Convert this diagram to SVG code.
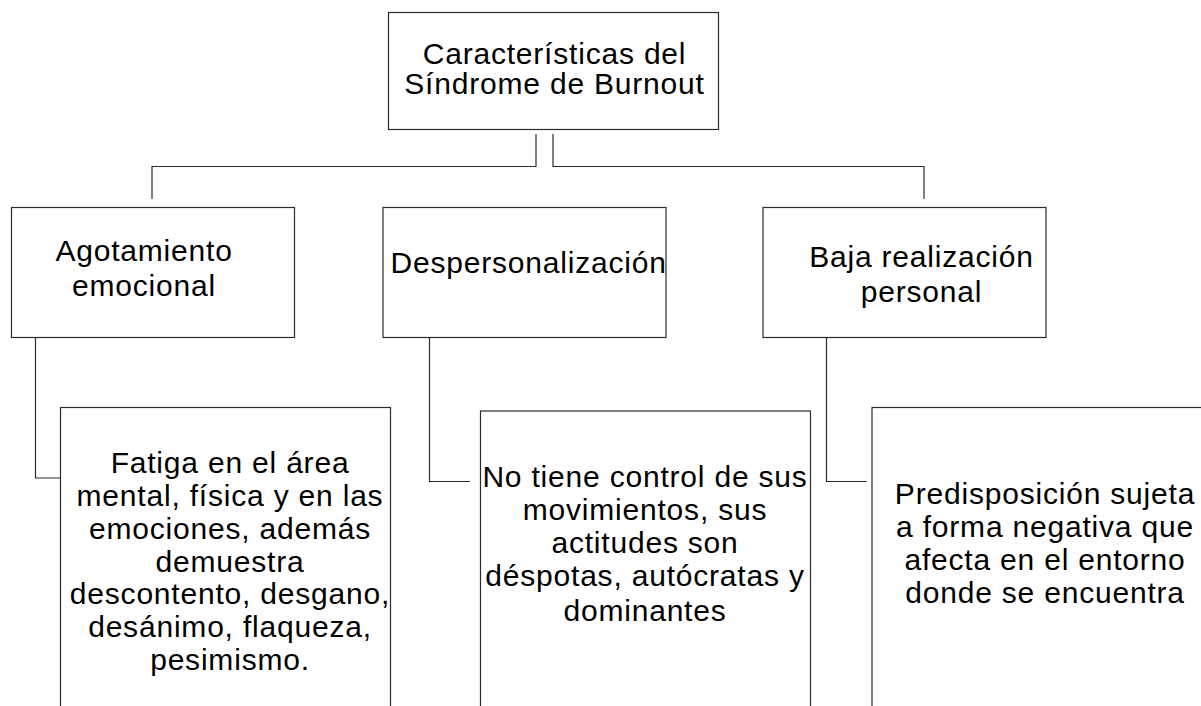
<svg xmlns="http://www.w3.org/2000/svg" width="1201" height="706" viewBox="0 0 1201 706">
<style>
.box{fill:#fff;stroke:#2b2b2b;stroke-width:1.2}
.ln{fill:none;stroke:#2b2b2b;stroke-width:1.2}
text{font-family:"Liberation Sans",Arial,sans-serif;font-size:30px;letter-spacing:0.8px;fill:#000;text-anchor:middle}
</style>
<rect width="1201" height="706" fill="#fff"/>
<g id="connectors">
<polyline class="ln" points="536,134 536,166.5 152,166.5 152,199"/>
<polyline class="ln" points="553,134 553,166.5 924,166.5 924,199"/>
<polyline class="ln" points="35.5,338 35.5,478 60,478"/>
<polyline class="ln" points="429.5,337 429.5,481.5 470,481.5"/>
<polyline class="ln" points="826.5,338 826.5,481.5 866.5,481.5"/>
</g>
<g id="root">
<rect class="box" x="388.5" y="12.5" width="330" height="117"/>
<text x="554.5" y="64">Características del</text>
<text x="554.5" y="94">Síndrome de Burnout</text>
</g>
<g id="agotamiento">
<rect class="box" x="11.5" y="207.5" width="283" height="130"/>
<text x="144" y="261">Agotamiento</text>
<text x="144" y="296">emocional</text>
</g>
<g id="despersonalizacion">
<rect class="box" x="383" y="207.5" width="283" height="130"/>
<text x="390.5" y="272.5" style="text-anchor:start">Despersonalización</text>
</g>
<g id="baja">
<rect class="box" x="763" y="207.5" width="283" height="130"/>
<text x="921.5" y="266.5">Baja realización</text>
<text x="921.5" y="301.5">personal</text>
</g>
<g id="fatiga">
<rect class="box" x="60.5" y="407.5" width="330" height="320"/>
<text x="230" y="472.5">Fatiga en el área</text>
<text x="230" y="505.5">mental, física y en las</text>
<text x="230" y="538.5">emociones, además</text>
<text x="230" y="571.5">demuestra</text>
<text x="230" y="604">descontento, desgano,</text>
<text x="230" y="636.5">desánimo, flaqueza,</text>
<text x="230" y="669.5">pesimismo.</text>
</g>
<g id="control">
<rect class="box" x="480.5" y="411" width="330" height="320"/>
<text x="645" y="486.5">No tiene control de sus</text>
<text x="645" y="520">movimientos, sus</text>
<text x="645" y="553">actitudes son</text>
<text x="645" y="586">déspotas, autócratas y</text>
<text x="645" y="620.5">dominantes</text>
</g>
<g id="predisposicion">
<rect class="box" x="872" y="407.5" width="340" height="320"/>
<text x="1045" y="504">Predisposición sujeta</text>
<text x="1045" y="537">a forma negativa que</text>
<text x="1045" y="570">afecta en el entorno</text>
<text x="1045" y="603">donde se encuentra</text>
</g>
</svg>
